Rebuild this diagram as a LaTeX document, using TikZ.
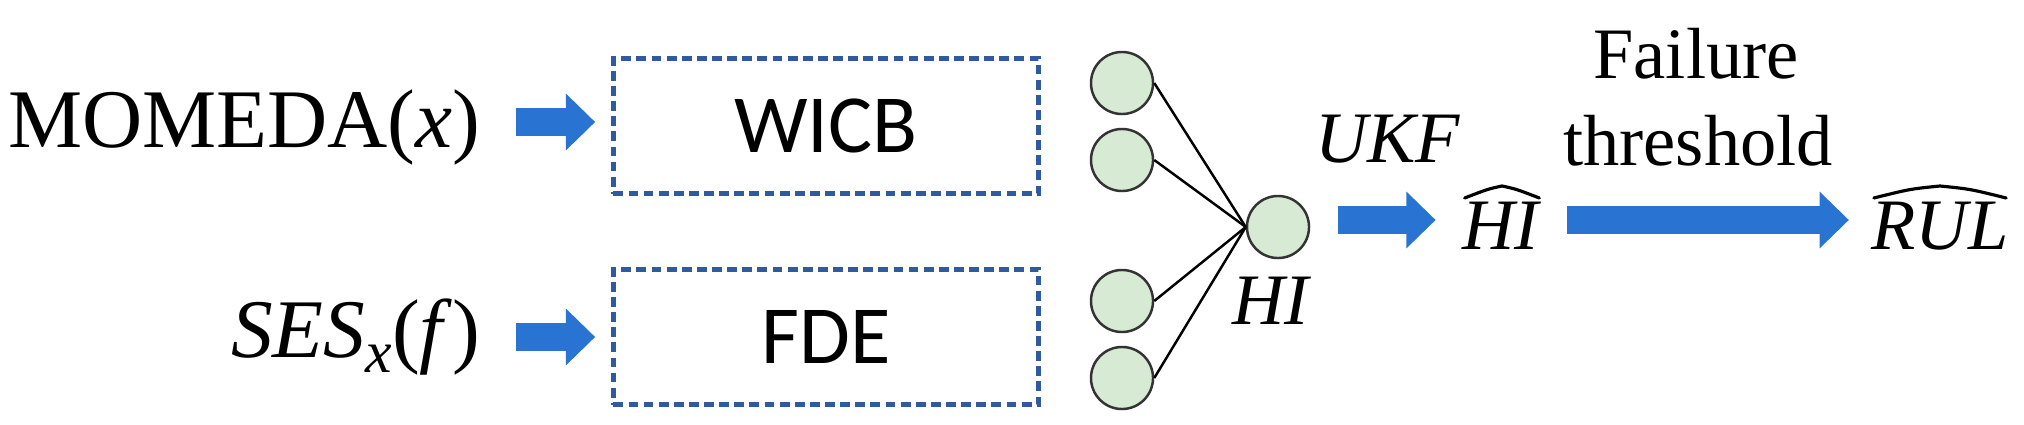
\documentclass[tikz,border=0pt]{standalone}
\usepackage{fontspec}
\setmainfont{Liberation Serif}
\newfontfamily\carl{Carlito}
\usetikzlibrary{arrows.meta,calc}
\definecolor{arrblue}{RGB}{41,116,210}
\definecolor{boxblue}{RGB}{47,90,160}
\definecolor{nodegreen}{RGB}{214,234,212}
\begin{document}
\begin{tikzpicture}[x=0.01cm,y=-0.01cm,
 lab/.style={inner sep=0pt, font=\fontsize{23.7}{28}\selectfont},
 midlab/.style={inner sep=0pt, font=\fontsize{20.6}{24}\selectfont},
 boxnode/.style={draw=boxblue, line width=1.25pt, dash pattern=on 2.8pt off 1.5pt, minimum width=4.25cm, minimum height=1.35cm, inner sep=0pt, font=\carl\fontsize{23.5}{28}\selectfont},
 neuron/.style={circle, draw=black!80, line width=0.7pt, fill=nodegreen, minimum size=0.62cm, inner sep=0pt},
 link/.style={line width=0.7pt},
 barrow/.style={draw=arrblue, line width=8pt, -{Triangle[length=8.3pt,width=15.6pt]}},
 hat/.style={line width=0.9pt, line join=round, line cap=round},
]
\useasboundingbox (0,0) rectangle (2024,424);

% left labels
\node[lab, anchor=base east] (momeda) at (481,147) {MOMEDA(\textit{x})};
\node[lab, anchor=base east] (ses) at (481,357) {\textit{SES}\raisebox{-0.4ex}{\fontsize{17}{19}\selectfont\textit{x}}(\textit{f})};

% boxes
\node[boxnode] (wicb) at (826,126) {WICB};
\node[boxnode] (fde) at (826,337) {FDE};

% input arrows
\coordinate (a1s) at (516,122);
\coordinate (a2s) at (516,337);
\draw[barrow] (a1s) -- ([xshift=-0.16cm]a1s -| wicb.west);
\draw[barrow] (a2s) -- ([xshift=-0.16cm]a2s -| fde.west);

% neurons
\node[neuron] (c1) at (1122,83) {};
\node[neuron] (c2) at (1122,160) {};
\node[neuron] (c3) at (1122,301) {};
\node[neuron] (c4) at (1122,378) {};
\node[neuron] (hi) at (1278,227) {};
\foreach \c in {c1,c2,c3,c4}{\draw[link] (\c.east) -- (hi.west);}

\node[midlab] (hilab) at (1272,301) {\textit{HI}};
\node[midlab] (ukf) at (1388,139) {\textit{UKF}};

% UKF arrow
\coordinate (a3s) at (1338,220);
\node[midlab, anchor=base] (hihat) at (1502,249) {\textit{HI}};
\draw[barrow] (a3s) -- ([xshift=-0.26cm]a3s -| hihat.west);
\draw[hat] ($(hihat.base west)+(3,-51)$) .. controls ($(hihat.base)+(-14,-60)$) .. ($(hihat.base)+(0,-63)$)
  .. controls ($(hihat.base)+(14,-60)$) .. ($(hihat.base east)+(-3,-51)$);

% threshold arrow
\coordinate (a4s) at (1567,220);
\node[midlab, anchor=base] (rul) at (1940,249) {\textit{RUL}};
\draw[barrow] (a4s) -- ([xshift=-0.22cm]a4s -| rul.west);
\draw[hat] ($(rul.base west)+(3,-51)$) .. controls ($(rul.base)+(-30,-60)$) .. ($(rul.base)+(0,-63)$)
  .. controls ($(rul.base)+(30,-60)$) .. ($(rul.base east)+(-3,-51)$);

\node[midlab, anchor=base] (fail) at (1696,78) {Failure};
\node[midlab, anchor=base] (thr) at (1698,165) {threshold};
\end{tikzpicture}
\end{document}
